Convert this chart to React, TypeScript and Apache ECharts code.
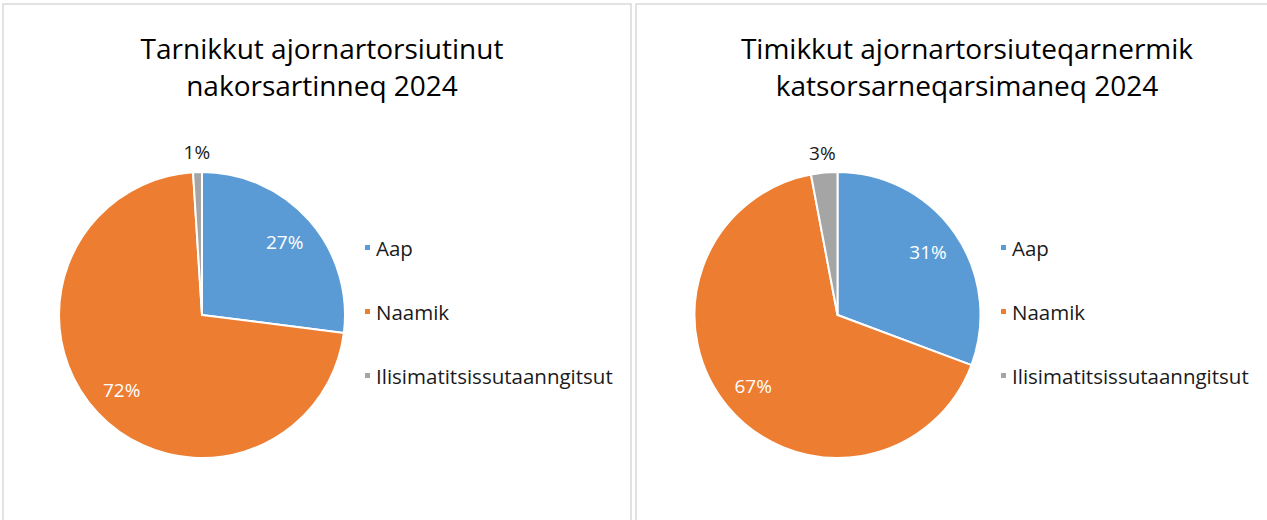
import React, { useEffect, useRef } from "react";
import * as echarts from "echarts";

const categories = ["Aap", "Naamik", "Ilisimatitsissutaanngitsut"];
const leftTitle = "Tarnikkut ajornartorsiutinut\nnakorsartinneq 2024";
const rightTitle = "Timikkut ajornartorsiuteqarnermik\nkatsorsarneqarsimaneq 2024";
const leftValues = [27, 72, 1];
const rightValues = [31, 67, 3];
const colors = ["#5B9BD5", "#ED7D31", "#A5A5A5"];

const FONT = "Open Sans";

export default function App() {
  const ref = useRef<HTMLDivElement>(null);
  useEffect(() => {
    document.body.style.margin = "0";
    const chart = echarts.init(ref.current!, undefined, { renderer: "svg" });
    const R = 143;
    const makeSeries = (values: number[], cx: number, cy: number) => {
      const mainData = values.map((v, i) => ({ name: categories[i], value: v, itemStyle: { color: colors[i] } }));
      const innerData = values.map((v, i) => ({
        name: categories[i],
        value: v,
        label: { show: i < 2 },
      }));
      const outerData = values.map((v, i) => ({
        name: categories[i],
        value: v,
        label: { show: i === 2 },
      }));
      return [
        {
          type: "pie",
          center: [cx, cy],
          radius: R,
          startAngle: 90,
          clockwise: true,
          data: mainData,
          label: { show: false },
          labelLine: { show: false },
          itemStyle: { borderColor: "#ffffff", borderWidth: 2 },
          emphasis: { disabled: true },
        },
        {
          type: "pie",
          center: [cx, cy],
          radius: [R * 0.5, R],
          startAngle: 90,
          clockwise: true,
          silent: true,
          data: innerData,
          itemStyle: { color: "transparent", borderWidth: 0 },
          label: {
            position: "inside",
            formatter: "{c}%",
            color: "#ffffff",
            fontSize: 19,
            fontFamily: FONT,
          },
          labelLine: { show: false },
          emphasis: { disabled: true },
        },
        {
          type: "pie",
          center: [cx, cy],
          radius: [R + 5, R + 29],
          startAngle: 90,
          clockwise: true,
          silent: true,
          data: outerData,
          itemStyle: { color: "transparent", borderWidth: 0 },
          label: {
            position: "inside",
            formatter: "{c}%",
            color: "#1a1a1a",
            fontSize: 19,
            fontFamily: FONT,
          },
          labelLine: { show: false },
          emphasis: { disabled: true },
        },
      ];
    };
    const legendBase = {
      orient: "vertical",
      top: 232,
      itemWidth: 7,
      itemHeight: 7,
      itemGap: 43,
      icon: "rect",
      data: categories,
      selectedMode: false,
      textStyle: { fontSize: 20.5, fontFamily: FONT, color: "#1a1a1a" },
    };
    const titleStyle = { fontSize: 28, fontWeight: "normal", fontFamily: FONT, color: "#000000", lineHeight: 37 };
    chart.setOption({
      animation: false,
      title: [
        { text: leftTitle, left: 317, top: 24, textAlign: "center", textStyle: titleStyle },
        { text: rightTitle, left: 962, top: 24, textAlign: "center", textStyle: titleStyle },
      ],
      legend: [
        { ...legendBase, left: 358 },
        { ...legendBase, left: 994 },
      ],
      graphic: [
        { type: "rect", shape: { x: 3, y: 4, width: 628, height: 530 }, style: { fill: "none", stroke: "#D9D9D9", lineWidth: 1.5 }, silent: true },
        { type: "rect", shape: { x: 636, y: 4, width: 700, height: 530 }, style: { fill: "none", stroke: "#D9D9D9", lineWidth: 1.5 }, silent: true },
      ],
      series: [...makeSeries(leftValues, 202, 315), ...makeSeries(rightValues, 837.5, 315)],
    });
    return () => chart.dispose();
  }, []);
  return <div ref={ref} style={{ width: 1267, height: 520 }} />;
}
